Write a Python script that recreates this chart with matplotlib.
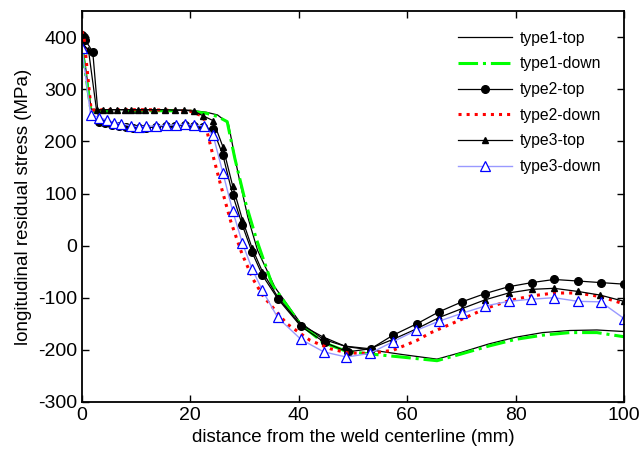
import matplotlib
matplotlib.use("Agg")
import matplotlib.pyplot as plt

plt.rcParams['font.family'] = ['Liberation Sans', 'DejaVu Sans']
plt.rcParams['axes.unicode_minus'] = False

# type1 (no markers)
t1_top_x = [0, 1.7, 4, 8, 12, 16, 20, 23, 25, 27.0, 28.8, 30.6, 32.4, 35.6, 40.2, 44.5, 48.8, 53.1,
            59, 65.5, 70, 75, 80, 85, 90, 95, 100]
t1_top_y = [395, 262, 261, 261, 261, 261, 260, 256, 251, 235, 139, 55, -9, -80, -147, -180, -194, -200,
            -209, -218, -205, -189, -176, -167, -163, -162, -165]

t1_down_x = [0, 1.7, 4, 8, 12, 16, 20, 23, 25, 26.8, 28.2, 30.2, 32.2, 35.1, 40.2, 44.5, 48.8, 53.1,
             59, 65.5, 70, 75, 80, 85, 90, 95, 100]
t1_down_y = [378, 258, 258, 258, 259, 259, 258, 254, 248, 238, 168, 82, 12, -75, -150, -186, -203, -208,
             -214, -221, -208, -193, -180, -172, -167, -167, -175]

# type2
t2_top_x = [0, 0.3, 0.6, 2.0, 3.1, 4.3, 5.5, 6.9, 8.2, 9.4, 10.6, 11.9, 13.6, 15.5, 17.2, 19.1, 20.7,
            22.4, 24.2, 26.0, 27.8, 29.6, 31.4, 33.3, 36.2, 40.4, 44.8, 49.0, 53.3, 57.4, 61.8, 65.9,
            70.1, 74.4, 78.7, 83.0, 87.1, 91.5, 95.7, 100]
t2_top_y = [405, 400, 395, 372, 237, 235, 232, 229, 227, 226, 225, 226, 228, 229, 230, 231, 229,
            228, 223, 174, 98, 39, -13, -57, -103, -155, -186, -204, -198, -172, -150, -127,
            -108, -92, -79, -71, -65, -68, -71, -74]

t2_down_x = [0, 0.4, 1.7, 4, 8, 12, 16, 20, 22.4, 24.2, 25.5, 27.5, 29.5, 31.6, 33.5, 37.8, 42.1,
             45.8, 49, 53.1, 57.4, 61.8, 64.2, 70.4, 74.4, 78.7, 82.7, 87.1, 91.5, 95.7, 100]
t2_down_y = [412, 398, 260, 261, 261, 261, 260, 258, 248, 172, 120, 45, -15, -65, -98, -150, -182,
             -198, -206, -207, -201, -182, -168, -140, -121, -106, -97, -91, -91, -98, -112]

# type3
t3_top_x = [0, 1.2, 2.7, 3.9, 5.2, 6.4, 7.9, 9.0, 10.3, 11.6, 13.3, 15.3, 17.2, 18.9, 20.7, 22.4,
            24.2, 26.0, 27.8, 29.6, 31.4, 33.3, 36.2, 40.4, 44.4, 48.5, 53.1, 57.4, 61.7, 65.9,
            70.1, 74.4, 78.7, 83.0, 87.1, 91.5, 95.6, 100]
t3_top_y = [388, 376, 260, 261, 261, 261, 261, 261, 261, 261, 261, 261, 260, 260, 258, 249,
            240, 190, 115, 50, -5, -50, -100, -152, -175, -193, -198, -180, -160, -138,
            -121, -104, -91, -84, -82, -88, -95, -107]

t3_down_x = [0, 1.6, 3.2, 4.6, 6.0, 7.3, 9.0, 10.5, 11.9, 13.6, 15.6, 17.3, 19.1, 20.7, 22.5, 24.2,
             26.0, 27.8, 29.6, 31.4, 33.3, 36.1, 40.4, 44.6, 48.8, 53.1, 57.3, 61.6, 65.9, 70.1,
             74.4, 78.7, 82.8, 87.1, 91.5, 95.7, 100]
t3_down_y = [380, 251, 246, 241, 236, 234, 230, 228, 229, 230, 231, 232, 233, 231, 230, 212,
             140, 67, 5, -45, -86, -138, -180, -204, -214, -207, -185, -163, -145, -130,
             -116, -107, -103, -100, -107, -108, -140]

fig = plt.figure(figsize=(6.4, 4.51), dpi=100)
ax = fig.add_axes([0.128, 0.109, 0.847, 0.866])

ax.plot(t1_top_x, t1_top_y, color='black', lw=0.9, label='type1-top')
ax.plot(t1_down_x, t1_down_y, color='#00ff00', lw=2.2, ls='-.', label='type1-down')
ax.plot(t2_top_x, t2_top_y, color='black', lw=0.9, marker='o', ms=5.5, mfc='black', label='type2-top')
ax.plot(t2_down_x, t2_down_y, color='red', lw=2.2, ls=':', label='type2-down')
ax.plot(t3_top_x, t3_top_y, color='black', lw=0.9, marker='^', ms=4, mfc='black', label='type3-top')
ax.plot(t3_down_x, t3_down_y, color='#9999ff', lw=1.0, marker='^', ms=7, mfc='white',
        mec='blue', mew=0.9, label='type3-down')

ax.set_xlim(0, 100)
ax.set_ylim(-300, 450)
ax.set_xticks(range(0, 101, 20))
ax.set_yticks(range(-300, 401, 100))
ax.tick_params(direction='in', top=True, right=True, length=5, width=1, labelsize=14)
for s in ax.spines.values():
    s.set_linewidth(1.3)

ax.set_xlabel('distance from the weld centerline (mm)', fontsize=13.5, labelpad=4)
ax.set_ylabel('longitudinal residual stress (MPa)', fontsize=13.5, labelpad=4)

ax.legend(loc='upper left', bbox_to_anchor=(0.694, 0.95), frameon=False, fontsize=11.3,
          handlelength=3.45, handletextpad=0.45, labelspacing=0.68, borderpad=0, borderaxespad=0)

fig.savefig('out.png', dpi=100)
